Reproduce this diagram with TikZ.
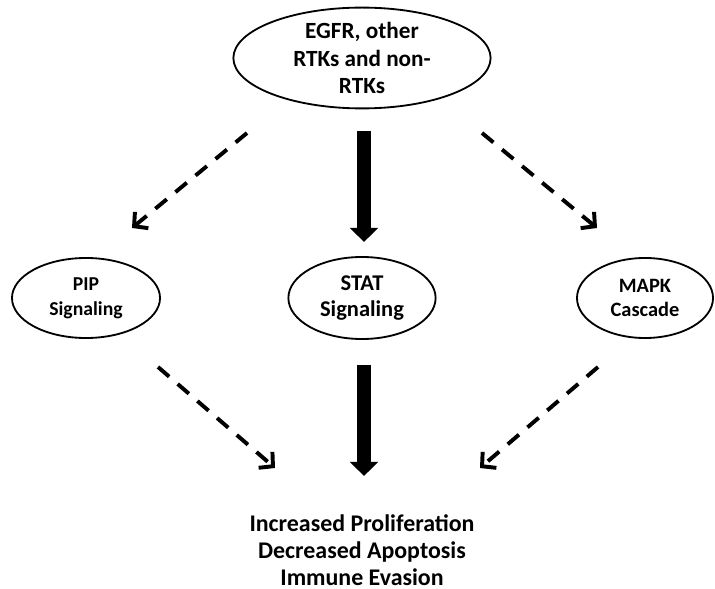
\documentclass[tikz,border=0pt]{standalone}
\usepackage{fontspec}
\setmainfont{Carlito}
\usetikzlibrary{shapes.geometric,arrows.meta}

\begin{document}
\begin{tikzpicture}[
    x=0.025cm, y=-0.025cm,
    pathway/.style={ellipse, draw, line width=1.3pt, inner sep=0pt, align=center},
    weak/.style={line width=2.8pt, dash pattern=on 10.5pt off 8pt, -{Straight Barb[length=7pt, width=15pt]}},
    strong/.style={line width=10.6pt, -{Triangle[length=10pt, width=19.5pt]}}
]
    \useasboundingbox (0,0) rectangle (715,589);

    % receptors
    \node[pathway, minimum width=6.43cm, minimum height=2.2cm,
          font=\fontsize{16.5}{19.5}\selectfont\bfseries] (rtk) at (362,58)
        {EGFR, other\\RTKs and non-\\RTKs};

    % signaling layer
    \node[pathway, minimum width=3.7cm, minimum height=2cm,
          font=\fontsize{14}{17.5}\selectfont\bfseries] (pip) at (86,298)
        {PIP\\Signaling};
    \node[pathway, minimum width=3.68cm, minimum height=2.05cm,
          font=\fontsize{16}{19}\selectfont\bfseries] (stat) at (362,298)
        {STAT\\Signaling};
    \node[pathway, minimum width=3.4cm, minimum height=2cm,
          font=\fontsize{14.5}{17}\selectfont\bfseries] (mapk) at (645,298)
        {MAPK\\Cascade};

    % outcome
    \node[align=center, inner sep=0pt,
          font=\fontsize{17}{19}\selectfont\bfseries] (out) at (362,550)
        {Increased Proliferation\\Decreased Apoptosis\\Immune Evasion};

    % arrow ends
    \coordinate (rtk-l) at (247,133);
    \coordinate (rtk-r) at (482,133);
    \coordinate (rtk-c) at (364,131);
    \coordinate (pip-in) at (132,228);
    \coordinate (mapk-in) at (597,228);
    \coordinate (stat-in) at (364,242);
    \coordinate (pip-out) at (158,367);
    \coordinate (stat-out) at (364,365);
    \coordinate (mapk-out) at (598,367);
    \coordinate (out-l) at (275,468);
    \coordinate (out-c) at (364,476);
    \coordinate (out-r) at (480,468);

    \draw[weak] (rtk-l) -- (pip-in);
    \draw[weak] (rtk-r) -- (mapk-in);
    \draw[strong] (rtk-c) -- (stat-in);

    \draw[weak] (pip-out) -- (out-l);
    \draw[weak] (mapk-out) -- (out-r);
    \draw[strong] (stat-out) -- (out-c);

\end{tikzpicture}
\end{document}
